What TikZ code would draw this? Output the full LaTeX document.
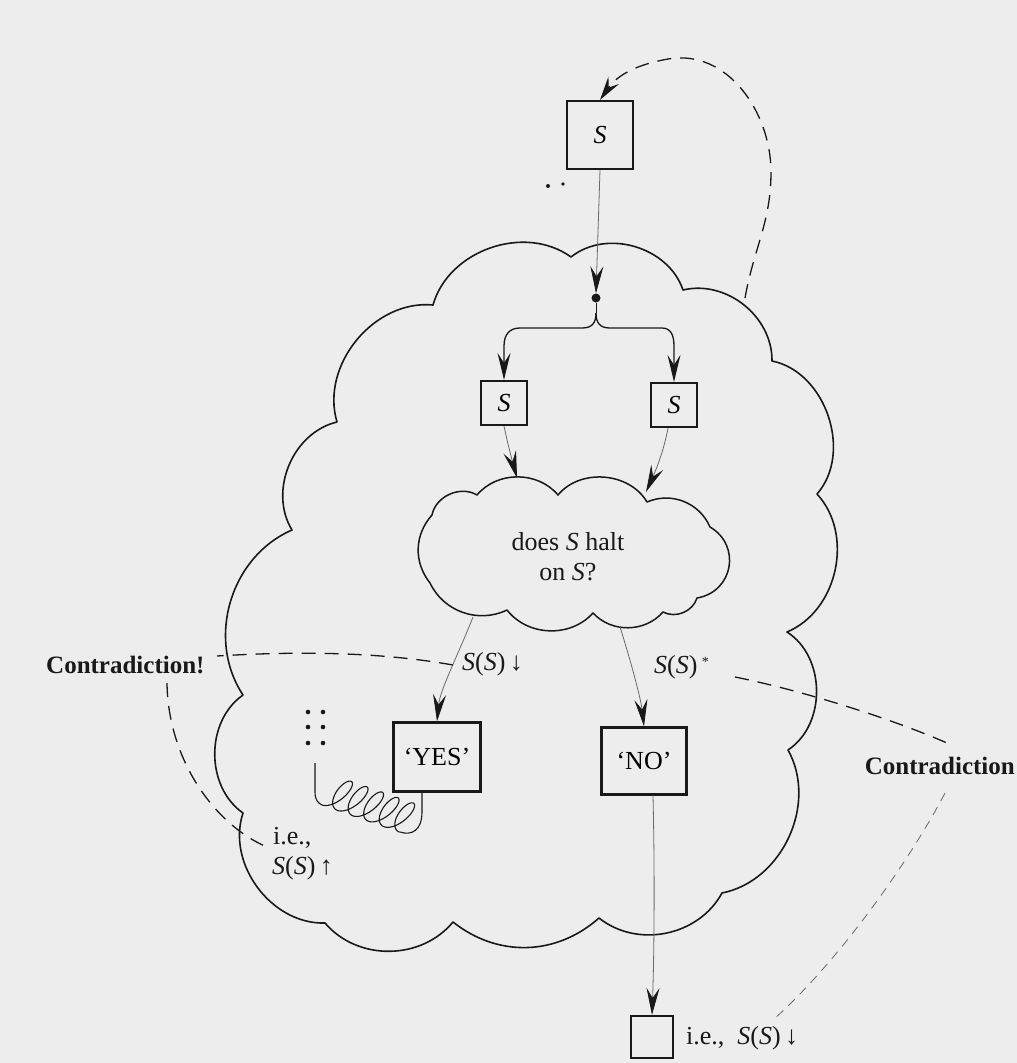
\documentclass[tikz,border=0pt]{standalone}
\usepackage{fontspec}
\setmainfont{Liberation Serif}
\usetikzlibrary{arrows.meta,calc}
\definecolor{paper}{RGB}{237,237,237}
\definecolor{ink}{RGB}{25,25,25}
\definecolor{faint}{RGB}{105,105,105}
\begin{document}
\begin{tikzpicture}[x=1pt,y=1pt,
  box/.style={draw=ink,line width=2.2pt,inner sep=0pt,font=\fontsize{26}{30}\selectfont},
  cloudline/.style={draw=ink,line width=1.6pt,line join=round},
  tip/.style={-{Stealth[length=27pt,width=13pt,inset=10pt,color=ink]}},
  conn/.style={draw=faint,line width=0.8pt,tip},
  braceconn/.style={draw=ink,line width=1.3pt,tip},
  dashcurve/.style={draw=ink,line width=1.3pt,dash pattern=on 14pt off 9pt},
  thindash/.style={draw=faint,line width=0.8pt,dash pattern=on 9pt off 7pt},
  springline/.style={draw=ink,line width=1.1pt},
  lbl/.style={font=\fontsize{26}{30}\selectfont,inner sep=0pt,text=ink},
  boldlbl/.style={font=\fontsize{25}{30}\selectfont\bfseries,inner sep=0pt,text=ink},
  ]
\useasboundingbox (0,0) rectangle (1017,-1063);
\fill[paper] (0,0) rectangle (1017,-1063);
\clip (0,0) rectangle (1017,-1063);

% big cloud
\draw[cloudline] (571,-257) to[bend left=55] (683,-290) to[bend left=52] (772,-361)
  to[bend left=60] (817,-494) to[bend left=55] (787,-632) to[bend left=57] (788,-750)
  to[bend left=54] (722,-893) to[bend left=50] (599,-918) to[bend left=40] (453,-922)
  to[bend left=50] (325,-923) to[bend left=55] (243,-813) to[bend left=55] (243,-695)
  to[bend left=50] (292,-530) to[bend left=54] (337,-422) to[bend left=56] (433,-305)
  to[bend left=55] (571,-257) -- cycle;

% small cloud
\draw[cloudline,line width=1.5pt] (477,-495) to[bend left=50] (558,-495) to[bend left=55] (647,-502)
  to[bend left=45] (710,-527) to[bend left=70,looseness=1.3] (697,-598) to[bend left=50] (663,-612)
  to[bend left=48] (593,-613) to[bend left=50] (507,-610) to[bend left=45] (430,-583)
  to[bend left=40] (432,-515) to[bend left=55] (477,-495) -- cycle;
\node[lbl,align=center] (q) at (568,-557) {does \textit{S} halt\\on \textit{S}?};

% boxes
\node[box,minimum width=66pt,minimum height=68pt] (topS) at (600,-135) {\textit{S}};
\node[box,minimum width=46pt,minimum height=44pt] (lS) at (504,-403) {\textit{S}};
\node[box,minimum width=46pt,minimum height=44pt] (rS) at (674,-405) {\textit{S}};
\node[box,minimum width=87pt,minimum height=69pt] (yes) at (437,-757) {`YES'};
\node[box,minimum width=85pt,minimum height=67pt] (no) at (644,-761) {`NO'};
\node[box,minimum width=42pt,minimum height=42pt] (bot) at (652,-1037) {};

% dot and small dots
\node[circle,fill=ink,inner sep=0pt,minimum size=9pt] (dot) at (596,-298) {};
\fill[ink] (548,-186) circle (2pt) (563,-184) circle (1.8pt);
\foreach \yy in {712,727,743}{\fill[ink] (308,-\yy) circle (2.3pt) (323,-\yy) circle (2.3pt);}

% top arrow and brace
\draw[conn] (topS.south) -- (dot.north);
\coordinate (bt) at (596,-313);
\draw[draw=ink,line width=1pt] (dot.south) -- (bt);
\draw[braceconn] (bt) .. controls (596,-323) and (592,-328) .. (582,-328) -- (520,-328)
  .. controls (510,-328) and (504,-334) .. (504,-346) -- (lS.north);
\draw[braceconn] (bt) .. controls (596,-323) and (600,-328) .. (610,-328) -- (662,-328)
  .. controls (670,-328) and (674,-334) .. (674,-346) -- (rS.north);

% into the small cloud
\coordinate (qa) at (517,-478);
\coordinate (qb) at (646,-492);
\draw[conn] (lS.south) .. controls (508,-445) and (512,-460) .. (qa);
\draw[conn] ($(rS.south)+(-6,0)$) .. controls (664,-450) and (656,-470) .. (qb);

% out of the small cloud
\coordinate (qy) at (473,-617);
\coordinate (qn) at (620,-627);
\draw[conn] (qy) .. controls (458,-655) and (440,-690) .. (yes.north);
\draw[conn] (qn) .. controls (632,-665) and (641,-700) .. (no.north);
\draw[conn] ($(no.south)+(9,0)$) .. controls (655,-880) and (654,-960) .. (bot.north);

% spring
\coordinate (sp) at (315,-763);
\coordinate (spa) at (322,-805);
\coordinate (spb) at (400,-832);
\draw[springline] (sp) -- (315,-792) .. controls (315,-800) and (318,-803) .. (spa);
\draw[springline,shift={(spa)},rotate=-19.3] plot[domain=0:31.416,samples=500,variable=\t]
  ({2.62*\t+9*sin(\t r)+0.35*16*(1-cos(\t r))},{16*(1-cos(\t r))});
\draw[springline] (spb) .. controls (412,-836) and (422,-830) .. (422,-812) -- ($(yes.south)+(-15,0)$);

% labels
\node[lbl,anchor=west] (ssd) at (462,-664) {\textit{S}(\textit{S})\,↓};
\node[lbl,anchor=west] (ssu) at (654,-667) {\textit{S}(\textit{S})\,\raisebox{7pt}{\fontsize{14}{14}\selectfont *}};
\node[lbl,anchor=west] (ie1) at (273,-838) {i.e.,};
\node[lbl,anchor=west] (ie2) at (272,-868) {\textit{S}(\textit{S})\,↑};
\node[lbl,anchor=west] (ie3) at (686,-1038) {i.e.,\ \ \textit{S}(\textit{S})\,↓};
\node[boldlbl,anchor=west] (cl) at (46,-665) {Contradiction!};
\node[boldlbl,anchor=east] (cr) at (1015,-766) {Contradiction};

% dashed connectors
\coordinate (dc) at (745,-298);
\draw[dashcurve,-{Stealth[length=24pt,width=13pt,inset=9pt,color=ink]}] (dc) to[out=80,in=-90] (771,-172)
  to[out=90,in=10] (668,-59) to[out=190,in=55] (topS.north);
\coordinate (dl1) at (453,-665);
\coordinate (dl2) at (217,-656);
\draw[dashcurve] (dl1) .. controls (380,-652) and (300,-651) .. (dl2);
\coordinate (dl3) at (167,-683);
\coordinate (dl4) at (267,-847);
\draw[dashcurve] (dl3) .. controls (168,-760) and (215,-825) .. (dl4);
\coordinate (dr1) at (735,-677);
\coordinate (dr2) at (947,-743);
\draw[dashcurve] (dr1) .. controls (800,-690) and (890,-718) .. (dr2);
\coordinate (dr3) at (945,-793);
\coordinate (dr4) at (773,-1020);
\draw[thindash] (dr3) .. controls (910,-860) and (840,-960) .. (dr4);
\end{tikzpicture}
\end{document}
